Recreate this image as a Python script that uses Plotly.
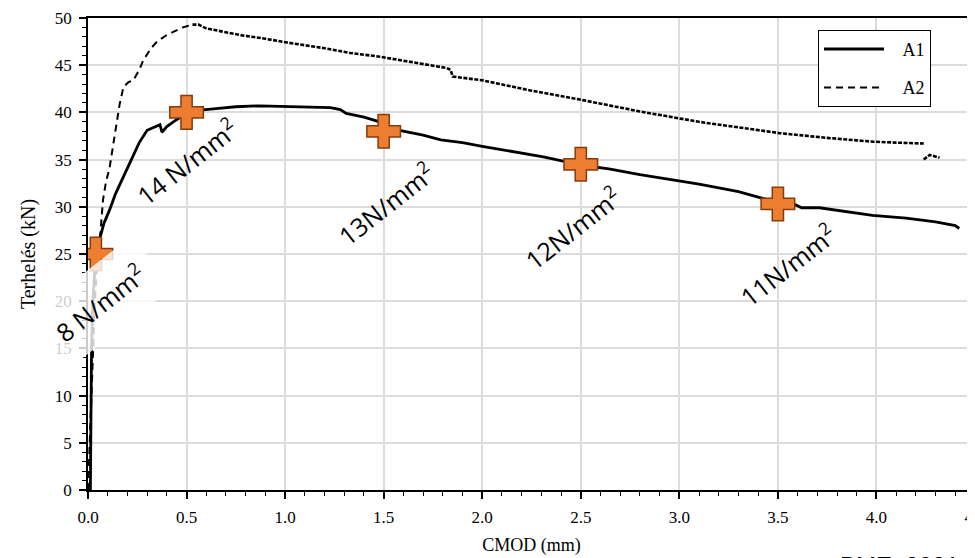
import plotly.graph_objects as go

# ---- data ----
a1_x = [0.012, 0.015, 0.016, 0.018, 0.025, 0.035, 0.045, 0.06, 0.08, 0.11, 0.14, 0.18, 0.22, 0.26, 0.30,
        0.33, 0.365, 0.375, 0.40, 0.44, 0.47, 0.50, 0.57, 0.65, 0.75, 0.87, 1.0, 1.1, 1.23, 1.28, 1.31,
        1.40, 1.48, 1.58, 1.70, 1.79, 1.90, 2.0, 2.15, 2.31, 2.51, 2.65, 2.80, 2.95, 3.1, 3.3, 3.51,
        3.58, 3.62, 3.71, 3.85, 3.98, 4.15, 4.30, 4.40, 4.42]
a1_y = [0, 5, 10, 15, 20, 23.5, 25.5, 26.8, 28.2, 29.7, 31.4, 33.2, 35.0, 36.8, 38.1,
        38.4, 38.7, 37.9, 38.5, 39.1, 39.5, 40.0, 40.25, 40.4, 40.6, 40.7, 40.6, 40.6, 40.5, 40.3, 39.9,
        39.5, 39.0, 38.1, 37.6, 37.1, 36.8, 36.4, 35.9, 35.3, 34.4, 34.0, 33.4, 32.9, 32.4, 31.6, 30.4,
        30.3, 29.9, 29.9, 29.5, 29.1, 28.8, 28.4, 28.0, 27.7]

a2_x = [0.0, 0.015, 0.025, 0.035, 0.045, 0.06, 0.076, 0.09, 0.11, 0.13, 0.16, 0.18, 0.205, 0.23, 0.26,
        0.28, 0.32, 0.35, 0.40, 0.43, 0.48, 0.53, 0.56, 0.60, 0.68, 0.77, 0.9, 1.01, 1.2, 1.33, 1.48,
        1.65, 1.82, 1.84, 1.85, 2.0, 2.25, 2.51, 2.80, 3.1, 3.3, 3.51, 3.75, 3.98, 4.1, 4.24,
        None, 4.24, 4.27, 4.32]
a2_y = [0, 8, 15, 20, 23.6, 26.5, 30.7, 32.5, 34.2, 36.7, 40.8, 42.7, 43.2, 43.4, 44.5,
        45.5, 46.8, 47.5, 48.2, 48.5, 49.0, 49.3, 49.3, 48.9, 48.6, 48.2, 47.8, 47.4, 46.8, 46.3, 45.9,
        45.3, 44.7, 44.5, 43.8, 43.4, 42.3, 41.3, 40.1, 39.0, 38.4, 37.8, 37.3, 36.9, 36.8, 36.7,
        None, 35.0, 35.5, 35.2]
a2_split = 22  # index where the pre-peak part ends

mark_x = [0.04, 0.5, 1.5, 2.5, 3.5]
mark_y = [25.0, 40.0, 38.0, 34.5, 30.3]

label_text = ["8 N/mm<sup>2</sup>", "14 N/mm<sup>2</sup>", "13N/mm<sup>2</sup>",
              "12N/mm<sup>2</sup>", "11N/mm<sup>2</sup>"]
label_x = [0.06, 0.5, 1.51, 2.46, 3.55]
label_y = [19.9, 34.8, 30.4, 27.8, 23.9]

x_ticks = [0.0, 0.5, 1.0, 1.5, 2.0, 2.5, 3.0, 3.5, 4.0, 4.5]
x_ticktext = ["0.0", "0.5", "1.0", "1.5", "2.0", "2.5", "3.0", "3.5", "4.0", "4.5"]
y_ticks = [0, 5, 10, 15, 20, 25, 30, 35, 40, 45, 50]

serif = "Liberation Serif"
sans = "Open Sans"
nb = "\u00a0"

fig = go.Figure()

fig.add_trace(go.Scatter(x=a1_x, y=a1_y, mode="lines", name=nb * 3 + "A1", legendgroup="a1",
                         line=dict(color="black", width=2.8)))
fig.add_trace(go.Scatter(x=a2_x[:a2_split], y=a2_y[:a2_split], mode="lines", name=nb * 3 + "A2",
                         legendgroup="a2", line=dict(color="black", width=2, dash="7px,5px")))
fig.add_trace(go.Scatter(x=a2_x[a2_split - 1:], y=a2_y[a2_split - 1:], mode="lines", name="A2",
                         legendgroup="a2", showlegend=False,
                         line=dict(color="black", width=2.6, dash="4px,1.5px")))

# text labels (drawn before markers so the markers sit above)
for i, (t, lx, ly) in enumerate(zip(label_text, label_x, label_y)):
    fig.add_annotation(x=lx, y=ly, xref="x", yref="y", text=t, showarrow=False,
                       textangle=-38, font=dict(family=sans, size=25, color="black"),
                       bgcolor="rgba(255,255,255,0.8)" if i == 0 else "rgba(0,0,0,0)",
                       borderpad=14 if i == 0 else 0)

fig.add_trace(go.Scatter(x=mark_x, y=mark_y, mode="markers", showlegend=False,
                         marker=dict(symbol="cross", size=28, color="#ED7D31",
                                     line=dict(color="#843C0C", width=1.5))))

fig.add_annotation(x=0.846, y=-0.128, xref="paper", yref="paper", text="BME  2021",
                   showarrow=False, xanchor="left", yanchor="top",
                   font=dict(family="Liberation Sans", size=24, color="black"))

fig.update_layout(
    width=967, height=550,
    margin=dict(l=80, r=0, t=10, b=68, autoexpand=False),
    paper_bgcolor="white", plot_bgcolor="white",
    legend=dict(x=0.823, y=0.975, xanchor="left", yanchor="top",
                bordercolor="black", borderwidth=1, bgcolor="white",
                font=dict(family=serif, size=18, color="black"),
                tracegroupgap=12, itemwidth=60),
    font=dict(family=serif, color="black"),
)

fig.update_xaxes(range=[0, 4.5], tickvals=x_ticks, ticktext=x_ticktext, automargin=False,
                 showline=True, linecolor="black", linewidth=1.5, mirror=True,
                 showgrid=True, gridcolor="#dcdcdc", gridwidth=1.5, zeroline=False,
                 ticks="outside", ticklen=7, tickcolor="black", tickwidth=1.5,
                 ticklabelstandoff=4, ticklabeloverflow="allow",
                 minor=dict(dtick=0.1, ticks="outside", ticklen=4, tickcolor="black", tickwidth=1.2,
                            showgrid=False),
                 tickfont=dict(family=serif, size=17, color="black"),
                 title=dict(text="CMOD (mm)", font=dict(family=serif, size=18, color="black"),
                            standoff=12))

fig.update_yaxes(range=[0, 50], tickvals=y_ticks, automargin=False,
                 showline=True, linecolor="black", linewidth=1.5, mirror=False,
                 showgrid=True, gridcolor="#dcdcdc", gridwidth=1.5, zeroline=False,
                 ticks="outside", ticklen=7, tickcolor="black", tickwidth=1.5,
                 ticklabelstandoff=4,
                 minor=dict(dtick=1, ticks="outside", ticklen=4, tickcolor="black", tickwidth=1.2,
                            showgrid=False),
                 tickfont=dict(family=serif, size=17, color="black"),
                 title=dict(text="Terhelés (kN)", font=dict(family=serif, size=20, color="black"),
                            standoff=14))

fig.write_html("out.html")
